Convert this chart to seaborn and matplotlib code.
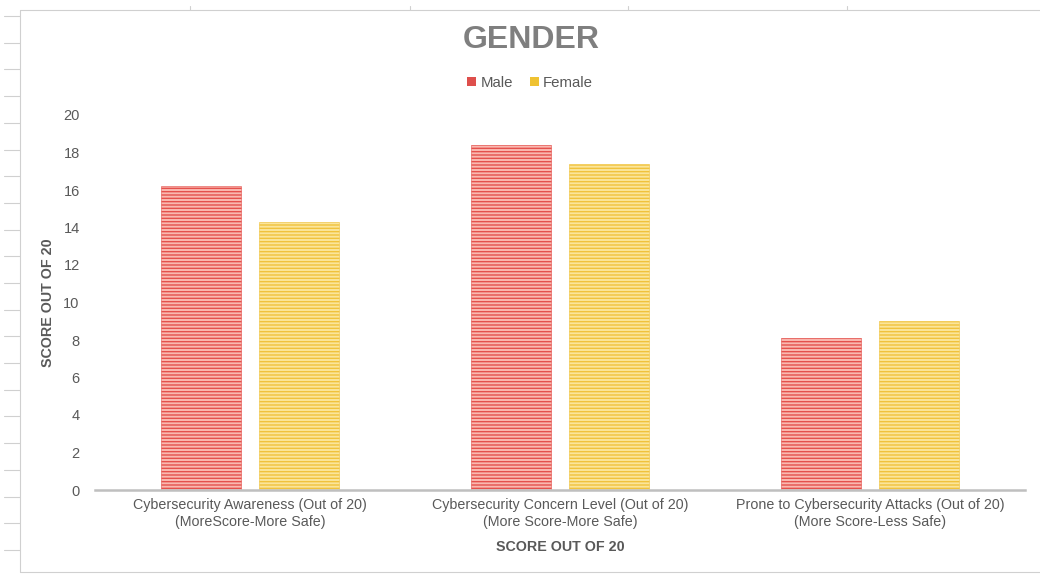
import matplotlib
matplotlib.use("Agg")
import matplotlib.pyplot as plt
from matplotlib.lines import Line2D
import seaborn as sns
import pandas as pd

categories = [
    "Cybersecurity Awareness (Out of 20)\n(MoreScore-More Safe)",
    "Cybersecurity Concern Level (Out of 20)\n(More Score-More Safe)",
    "Prone to Cybersecurity Attacks (Out of 20)\n(More Score-Less Safe)",
]
genders = ["Male", "Female"]
male_scores = [16.2, 18.4, 8.1]
female_scores = [14.3, 17.4, 9.0]
y_ticks = [0, 2, 4, 6, 8, 10, 12, 14, 16, 18, 20]

df = pd.DataFrame({
    "category": categories * 2,
    "gender": ["Male"] * 3 + ["Female"] * 3,
    "score": male_scores + female_scores,
})

sns.set_theme(style="white")
plt.rcParams["font.family"] = ["Liberation Sans", "DejaVu Sans"]
plt.rcParams["hatch.linewidth"] = 1.0

stripe = {"Male": "#E4504C", "Female": "#F0C23C"}
fill = {"Male": "#FAB8B0", "Female": "#FBE59A"}
legend_color = {"Male": "#DE4F4C", "Female": "#EFC232"}
text_gray = "#595959"

fig = plt.figure(figsize=(10.4, 5.74), dpi=100)
ax = fig.add_axes([95 / 1040, (574 - 490) / 574, 930 / 1040, 375 / 574])

sns.barplot(data=df, x="category", y="score", hue="gender", hue_order=genders,
            order=categories, width=0.63, gap=0.18, palette=stripe,
            ax=ax, legend=False)

for container, g in zip(ax.containers, genders):
    for bar in container:
        bar.set_facecolor(fill[g])
        bar.set_edgecolor(stripe[g])
        bar.set_linewidth(0.4)
        bar.set_hatch("-----")

ax.set_ylim(0, 20)
ax.set_xlim(-0.5, 2.5)
ax.set_yticks(y_ticks)
ax.tick_params(axis="y", length=0, pad=11, labelsize=10.5, labelcolor=text_gray)
ax.tick_params(axis="x", length=0, pad=6, labelsize=10.3, labelcolor=text_gray)
for s in ["top", "right", "left"]:
    ax.spines[s].set_visible(False)
ax.spines["bottom"].set_color("#BFBFBF")
ax.spines["bottom"].set_linewidth(1.8)

ax.set_ylabel("SCORE OUT OF 20", fontsize=10.3, fontweight="bold",
              color=text_gray, labelpad=6)
ax.set_xlabel("SCORE OUT OF 20", fontsize=10.3, fontweight="bold",
              color=text_gray, labelpad=8)

fig.text(531 / 1040, 1 - 40 / 574, "GENDER", ha="center", va="center",
         fontsize=23, fontweight="bold", color="#7F7F7F")

handles = [plt.Rectangle((0, 0), 1, 1, facecolor=legend_color[g], edgecolor="none")
           for g in genders]
fig.legend(handles, genders, loc="center", bbox_to_anchor=(530 / 1040, 1 - 83 / 574),
           ncol=2, frameon=False, fontsize=10.8, handlelength=0.6, handleheight=0.6,
           handletextpad=0.3, columnspacing=1.1, labelcolor=text_gray)

# sheet frame around the chart
frame = "#D0D0D0"
W, H = 1040, 574
def fx(px):
    return px / W
def fy(py):
    return 1 - py / H
fig.add_artist(Line2D([fx(20), fx(W)], [fy(10), fy(10)], color=frame, lw=0.8))
fig.add_artist(Line2D([fx(20), fx(20)], [fy(10), fy(572)], color=frame, lw=0.8))
fig.add_artist(Line2D([fx(20), fx(W)], [fy(572), fy(572)], color=frame, lw=0.8))
y = 16.0
while y < 572:
    fig.add_artist(Line2D([fx(4), fx(20)], [fy(y), fy(y)], color=frame, lw=0.8))
    y += 26.7
for x in [190, 410, 628, 847]:
    fig.add_artist(Line2D([fx(x), fx(x)], [fy(6), fy(10)], color=frame, lw=0.8))

fig.savefig("out.png", dpi=100, facecolor="white")
